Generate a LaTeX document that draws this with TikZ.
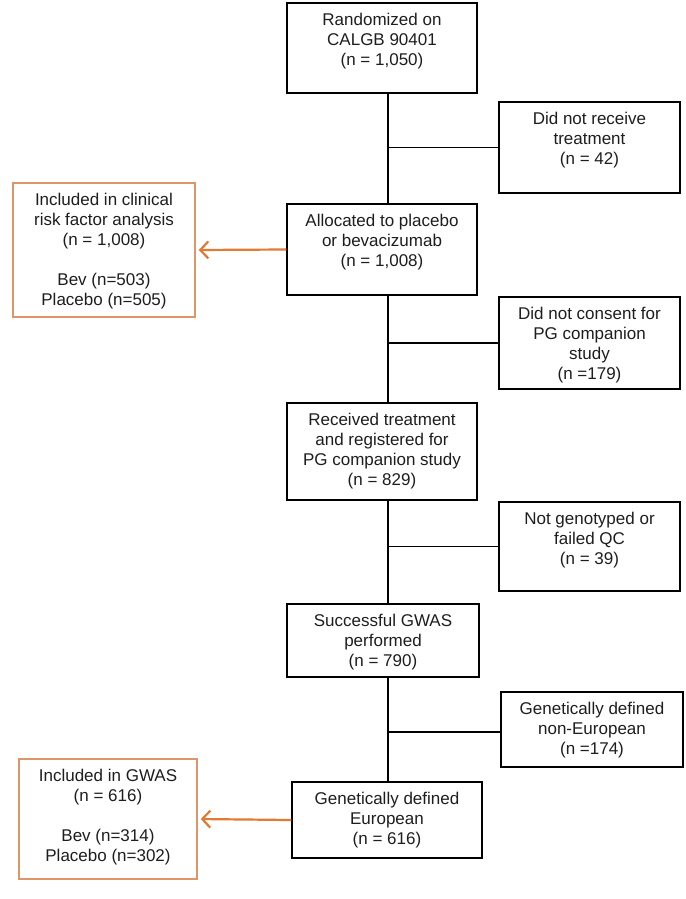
\documentclass[tikz,border=0pt]{standalone}
\usepackage{fontspec}
\setmainfont{Liberation Sans}
\usetikzlibrary{arrows.meta}
\definecolor{arrorange}{RGB}{226,122,52}
\definecolor{boxorange}{RGB}{222,150,104}
\definecolor{txtcol}{RGB}{30,30,30}
\tikzset{
  boxb/.style={draw=black, line width=1.5pt, fill=white, inner sep=0pt},
  boxo/.style={draw=boxorange, line width=1.5pt, fill=white, inner sep=0pt},
  txt/.style={anchor=north, inner sep=0pt, align=center, text=txtcol,
              font=\fontsize{17}{20}\selectfont, yshift=-10.5pt},
  link/.style={draw=black, line width=1.5pt},
  oarrow/.style={draw=arrorange, line width=2.2pt, -{Straight Barb[length=8pt,width=17pt,line width=2.2pt]}, shorten >=3pt}
}
\newcommand{\mkbox}[6]{% name, style, x1,y1,x2,y2
  \node[#2, minimum width={(#5-#3)*1pt}, minimum height={(#6-#4)*1pt}] (#1) at ({(#3+#5)/2},{(#4+#6)/2}) {};
}
\begin{document}
\begin{tikzpicture}[x=1pt,y=-1pt]
\useasboundingbox[fill=white] (0,0) rectangle (685,899);
\coordinate (spine) at (388,0);
% boxes
\mkbox{A}{boxb}{287}{3}{477}{93}
\mkbox{B}{boxb}{499}{102}{680}{193}
\mkbox{C}{boxb}{287}{204}{477}{295}
\mkbox{D}{boxo}{13}{183}{195}{317}
\mkbox{E}{boxb}{499}{297}{680}{389}
\mkbox{F}{boxb}{287}{403}{477}{500}
\mkbox{G}{boxb}{499}{502}{680}{591}
\mkbox{H}{boxb}{287}{604}{479}{677}
\mkbox{I}{boxb}{501}{692}{683}{767}
\mkbox{J}{boxb}{292}{782}{482}{858}
\mkbox{K}{boxo}{19}{759}{197}{879}
\coordinate (Ibr) at (501,732);
% texts
\node[txt] (At) at (A.north) {Randomized on\\CALGB 90401\\(n = 1,050)};
\node[txt] (Bt) at (B.north) {Did not receive\\treatment\\(n = 42)};
\node[txt] (Ct) at (C.north) {Allocated to placebo\\or bevacizumab\\(n = 1,008)};
\node[txt] (Dt) at (D.north) {Included in clinical\\risk factor analysis\\(n = 1,008)\\[20pt]Bev (n=503)\\Placebo (n=505)};
\node[txt] (Et) at (E.north) {Did not consent for\\PG companion\\study\\(n =179)};
\node[txt] (Ft) at (F.north) {Received treatment\\and registered for\\PG companion study\\(n = 829)};
\node[txt] (Gt) at (G.north) {Not genotyped or\\failed QC\\(n = 39)};
\node[txt] (Ht) at (H.north) {Successful GWAS\\performed\\(n = 790)};
\node[txt] (It) at (I.north) {Genetically defined\\non-European\\(n =174)};
\node[txt] (Jt) at (J.north) {Genetically defined\\European\\(n = 616)};
\node[txt] (Kt) at (K.north) {Included in GWAS\\(n = 616)\\[20pt]Bev (n=314)\\Placebo (n=302)};
% spine
\draw[link] (A.south -| spine) -- (C.north -| spine);
\draw[link] (C.south -| spine) -- (F.north -| spine);
\draw[link] (F.south -| spine) -- (H.north -| spine);
\draw[link] (H.south -| spine) -- (J.north -| spine);
% branches
\draw[link] (B.west -| spine) -- (B.west);
\draw[link] (E.west -| spine) -- (E.west);
\draw[link] (G.west -| spine) -- (G.west);
\draw[link] (Ibr -| spine) -- (Ibr);
% orange arrows
\draw[oarrow] (C.west) -- (D.east);
\draw[oarrow] (J.west) -- (K.east);
\end{tikzpicture}
\end{document}
